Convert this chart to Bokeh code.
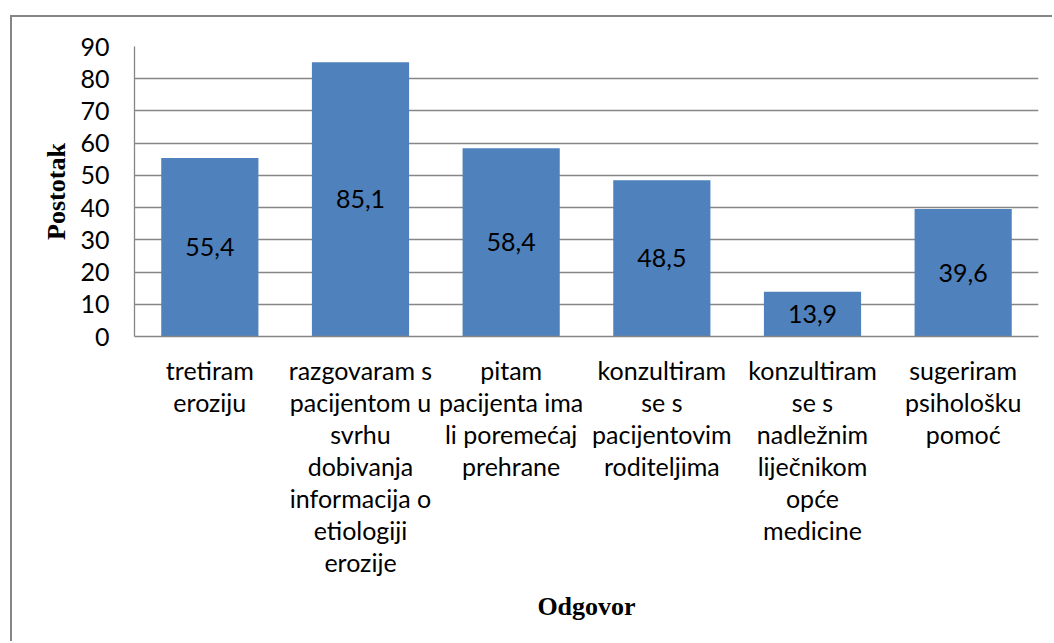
from bokeh.plotting import figure
from bokeh.models import FixedTicker, Range1d, ColumnDataSource
from bokeh.core.properties import value
from bokeh.embed import file_html
from bokeh.resources import INLINE

categories = [
    "tretiram\neroziju",
    "razgovaram s\npacijentom u\nsvrhu\ndobivanja\ninformacija o\netiologiji\nerozije",
    "pitam\npacijenta ima\nli poremećaj\nprehrane",
    "konzultiram\nse s\npacijentovim\nroditeljima",
    "konzultiram\nse s\nnadležnim\nliječnikom\nopće\nmedicine",
    "sugeriram\npsihološku\npomoć",
]
values = [55.4, 85.1, 58.4, 48.5, 13.9, 39.6]
value_labels = ["55,4", "85,1", "58,4", "48,5", "13,9", "39,6"]
y_ticks = [0, 10, 20, 30, 40, 50, 60, 70, 80, 90]

FONT = "Lato"
GRID = "#868686"

xs = [i + 0.5 for i in range(len(values))]
src = ColumnDataSource(dict(x=xs, top=values, mid=[v / 2 for v in values], lab=value_labels))

p = figure(width=1042, height=626, output_backend="svg", toolbar_location=None,
           x_range=Range1d(0, len(values)), y_range=Range1d(0, 90),
           min_border_left=122, min_border_top=29, min_border_right=16, min_border_bottom=307)
p.margin = (15, 0, 0, 10)
p.styles = {"border-left": "2px solid #868686", "border-top": "2px solid #868686"}

p.vbar(x="x", top="top", width=0.645, bottom=0, source=src, fill_color="#4F81BD", line_color=None)
p.text(x="x", y="mid", text="lab", source=src, text_align="center", text_baseline="middle",
       text_font=value(FONT), text_font_size="25px", text_color="black")

p.outline_line_color = None
p.xgrid.visible = False
p.ygrid.grid_line_color = GRID
p.ygrid.grid_line_width = 1.3
p.ygrid.ticker = FixedTicker(ticks=y_ticks)

p.yaxis.ticker = FixedTicker(ticks=y_ticks)
p.yaxis.axis_line_color = GRID
p.yaxis.axis_line_width = 1.3
p.yaxis.major_tick_line_color = None
p.yaxis.minor_tick_line_color = None
p.yaxis.major_label_text_font = FONT
p.yaxis.major_label_text_font_size = "25px"
p.yaxis.major_label_text_color = "black"
p.yaxis.major_label_standoff = 19
p.yaxis.axis_label = "Postotak"
p.yaxis.axis_label_text_font = "Liberation Serif"
p.yaxis.axis_label_text_font_style = "bold"
p.yaxis.axis_label_text_font_size = "26px"
p.yaxis.axis_label_text_color = "black"
p.yaxis.axis_label_standoff = 6

p.xaxis.ticker = FixedTicker(ticks=xs)
p.xaxis.major_label_overrides = {x: c for x, c in zip(xs, categories)}
p.xaxis.axis_line_color = GRID
p.xaxis.axis_line_width = 1.3
p.xaxis.major_tick_line_color = None
p.xaxis.minor_tick_line_color = None
p.xaxis.major_label_text_font = FONT
p.xaxis.major_label_text_font_size = "25px"
p.xaxis.major_label_text_color = "black"
p.xaxis.major_label_text_line_height = 1.07
p.xaxis.major_label_standoff = 12
p.xaxis.axis_label = "Odgovor"
p.xaxis.axis_label_text_font = "Liberation Serif"
p.xaxis.axis_label_text_font_style = "bold"
p.xaxis.axis_label_text_font_size = "26px"
p.xaxis.axis_label_text_color = "black"
p.xaxis.axis_label_standoff = 12

open("out.html", "w").write(file_html(p, INLINE))
